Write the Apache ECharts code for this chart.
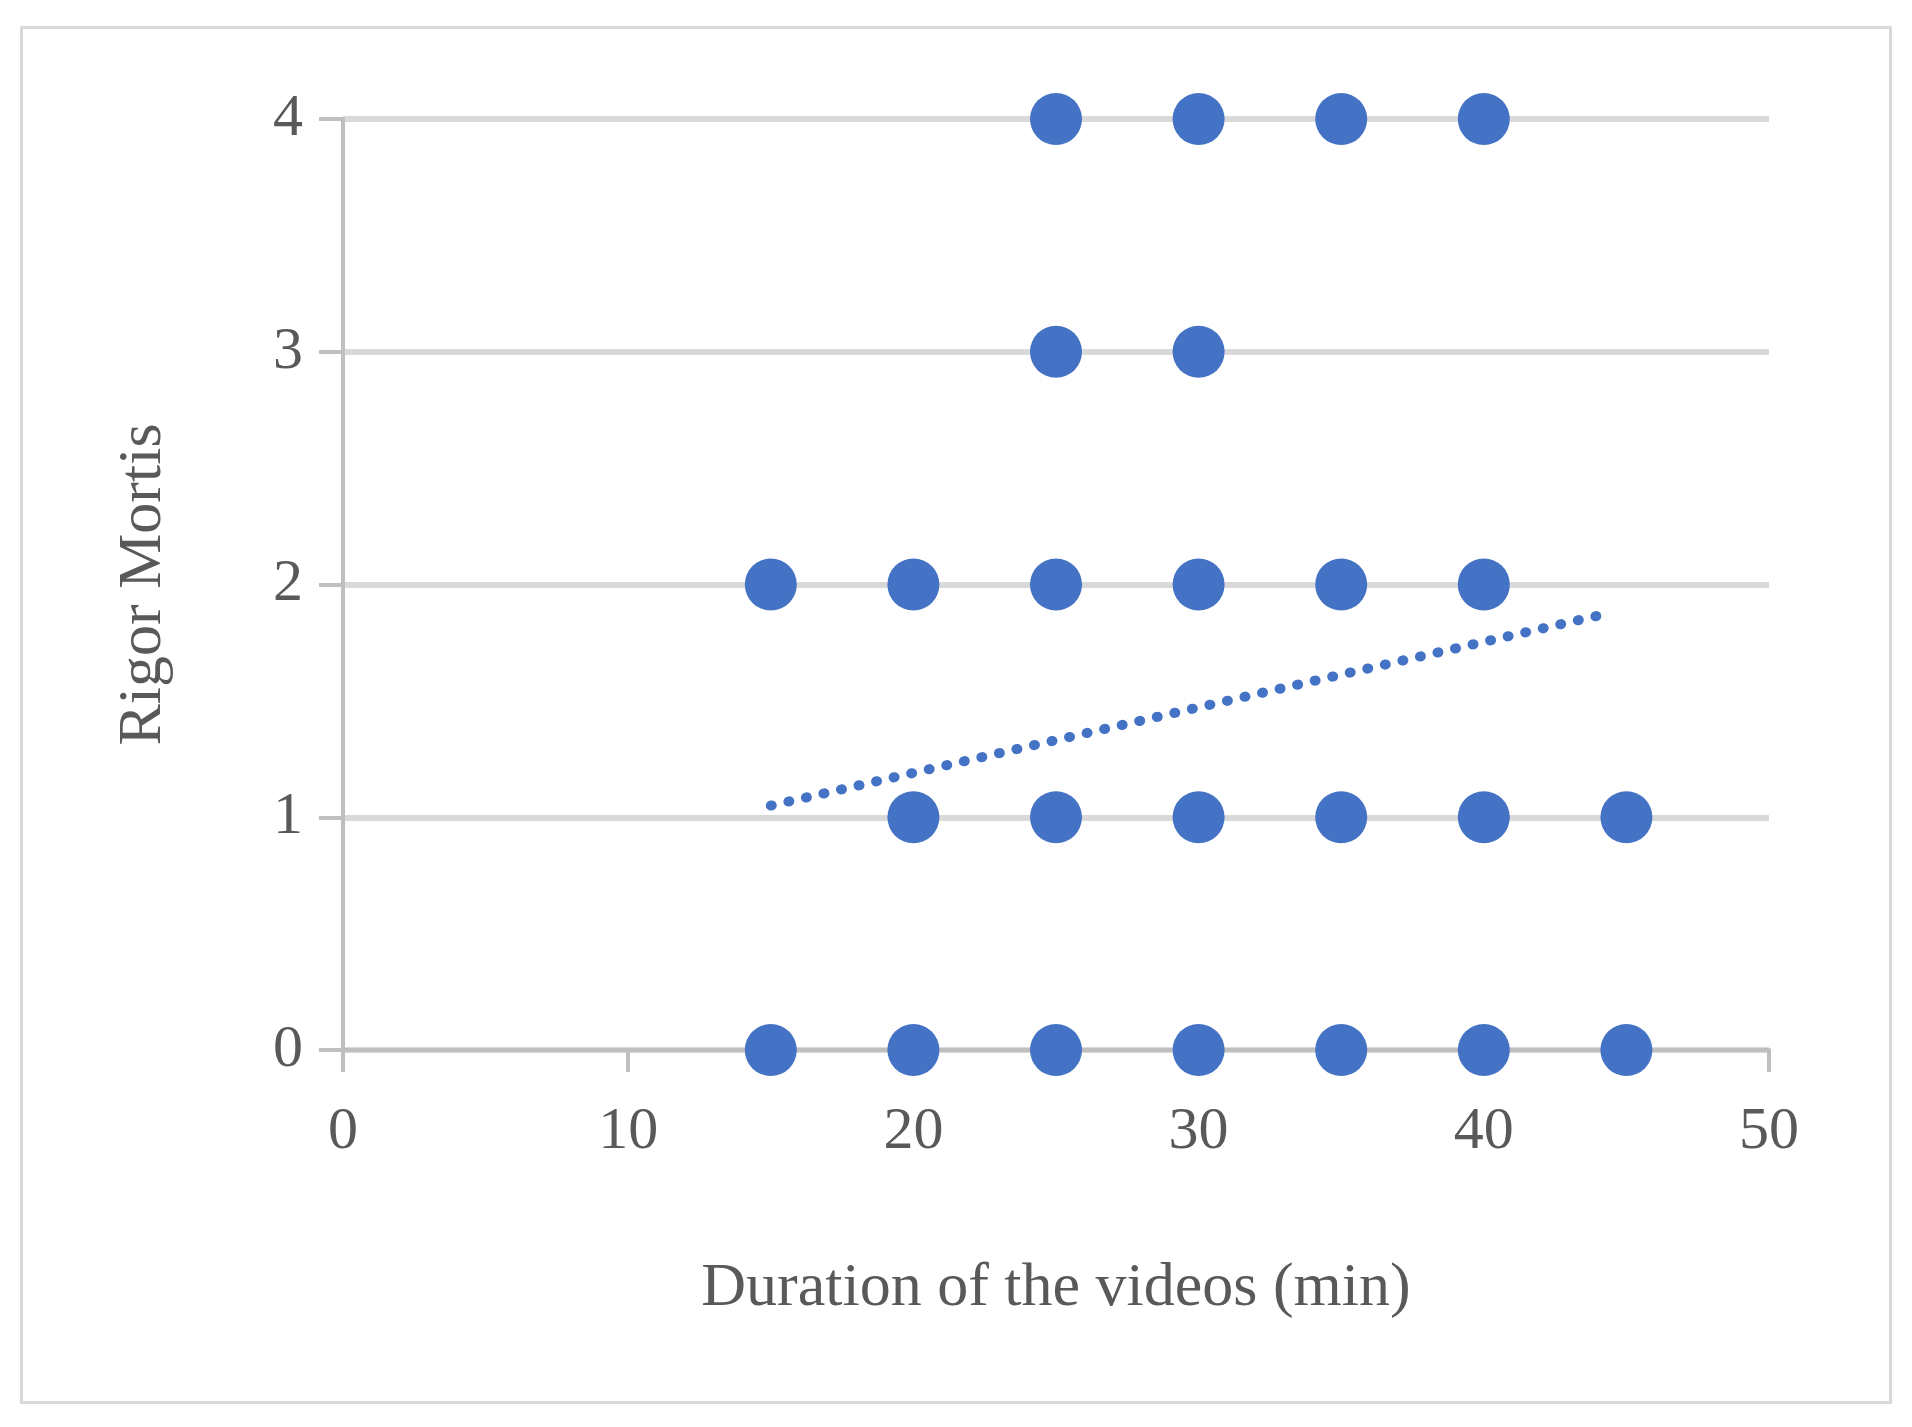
<!DOCTYPE html><html><head><meta charset="utf-8">
<script src="https://cdn.jsdelivr.net/npm/echarts@6/dist/echarts.min.js"></script>
<style>html,body{margin:0;padding:0;background:#fff}#c{width:1912px;height:1427px}
#f{position:absolute;left:20px;top:26px;width:1872px;height:1378px;border:3px solid #d9d9d9;box-sizing:border-box;pointer-events:none}</style>
</head><body><div id="c"></div><div id="f"></div>
<script>
const durations = [25,30,35,40, 25,30, 15,20,25,30,35,40, 20,25,30,35,40,45, 15,20,25,30,35,40,45];
const rigor =     [4,4,4,4, 3,3, 2,2,2,2,2,2, 1,1,1,1,1,1, 0,0,0,0,0,0,0];
const trendX = [15, 44.5];
const trendY = [1.05, 1.88];
const font = 'Liberation Serif';
const chart = echarts.init(document.getElementById('c'));
chart.setOption({
  animation:false,
  grid:{left:343,right:143,top:119,bottom:377},
  xAxis:{type:'value',min:0,max:50,interval:10,
    name:'Duration of the videos (min)',nameLocation:'middle',nameGap:208,
    nameTextStyle:{fontFamily:font,fontSize:62,color:'#595959'},
    axisLine:{show:true,onZero:false,lineStyle:{color:'#bfbfbf',width:4}},
    axisTick:{show:true,length:22,lineStyle:{color:'#bfbfbf',width:4}},
    axisLabel:{fontFamily:font,fontSize:60,color:'#595959',margin:52},
    splitLine:{show:false}},
  yAxis:{type:'value',min:0,max:4,interval:1,
    name:'Rigor Mortis',nameLocation:'middle',nameGap:168,
    nameTextStyle:{fontFamily:font,fontSize:62,color:'#595959'},
    axisLine:{show:true,lineStyle:{color:'#bfbfbf',width:4}},
    axisTick:{show:true,length:24,lineStyle:{color:'#bfbfbf',width:4}},
    axisLabel:{fontFamily:font,fontSize:60,color:'#595959',margin:40},
    splitLine:{show:true,lineStyle:{color:'#d9d9d9',width:6}}},
  series:[
    {type:'scatter',data:durations.map((d,i)=>[d,rigor[i]]),symbolSize:52,
     itemStyle:{color:'#4472c4',opacity:1},z:3},
    {type:'line',data:trendX.map((d,i)=>[d,trendY[i]]),symbol:'none',
     lineStyle:{color:'#4472c4',width:10,type:[1,17],cap:'round'},z:4}
  ]
});
</script></body></html>
